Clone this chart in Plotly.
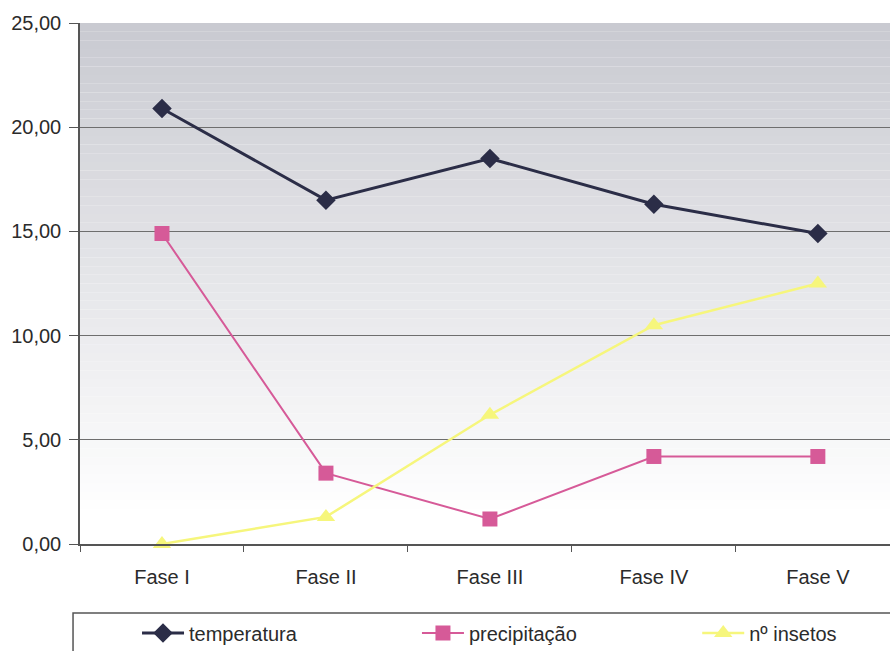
import plotly.graph_objects as go

# Data
fases = ["Fase I", "Fase II", "Fase III", "Fase IV", "Fase V"]
temperatura = [20.9, 16.5, 18.5, 16.3, 14.9]
precipitacao = [14.9, 3.4, 1.2, 4.2, 4.2]
insetos = [0.0, 1.3, 6.2, 10.5, 12.5]

FONT = "Liberation Sans, Arial, sans-serif"
TXT = "#2b2b2b"

fig = go.Figure()

fig.add_trace(go.Scatter(
    x=fases, y=temperatura, name="temperatura", mode="lines+markers",
    line=dict(color="#2b2d47", width=3),
    marker=dict(symbol="diamond", size=15, color="#2b2d47"),
    legend="legend", cliponaxis=False,
))
fig.add_trace(go.Scatter(
    x=fases, y=precipitacao, name="precipitação", mode="lines+markers",
    line=dict(color="#d65a98", width=2),
    marker=dict(symbol="square", size=15, color="#d65a98"),
    legend="legend2", cliponaxis=False,
))
fig.add_trace(go.Scatter(
    x=fases, y=insetos, name="nº insetos", mode="lines+markers",
    line=dict(color="#f6f67c", width=2.5),
    marker=dict(symbol="triangle-up", size=16, color="#f6f67c"),
    legend="legend3", cliponaxis=False,
))

# Vertical gray-to-white gradient behind the plot area
shapes = []
n_bands = 60
top_rgb = (201, 202, 209)
for i in range(n_bands):
    y0 = 25 * i / n_bands
    y1 = 25 * (i + 1) / n_bands
    mid = (y0 + y1) / 2
    t = max(0.0, (mid - 1.5) / 23.5)
    t = min(1.0, t)
    rgb = tuple(round(255 + (c - 255) * t) for c in top_rgb)
    shapes.append(dict(
        type="rect", xref="paper", yref="y", x0=0, x1=1, y0=y0, y1=y1,
        fillcolor="rgb(%d,%d,%d)" % rgb, line=dict(width=0), layer="below",
    ))

# Legend frame (runs off the right and bottom edges)
shapes.append(dict(
    type="rect", xref="paper", yref="paper", x0=-0.0086, x1=1.05,
    y0=-0.30, y1=-0.1324, line=dict(color="#555555", width=1.5),
    fillcolor="rgba(0,0,0,0)", layer="above",
))


def legend_box(x):
    return dict(
        orientation="h", x=x, xanchor="left", y=-0.171, yanchor="middle",
        font=dict(family=FONT, size=20, color=TXT),
        bgcolor="rgba(0,0,0,0)", itemwidth=42,
    )


fig.update_layout(
    width=890, height=651, autosize=False,
    margin=dict(l=80, r=0, t=23, b=107, autoexpand=False),
    paper_bgcolor="white", plot_bgcolor="white",
    separators=",.",
    font=dict(family=FONT, size=20, color=TXT),
    shapes=shapes,
    showlegend=True,
    legend=legend_box(0.0704),
    legend2=legend_box(0.4160),
    legend3=legend_box(0.7620),
)

fig.update_yaxes(
    range=[0, 25], dtick=5, tickformat=".2f",
    showgrid=True, gridcolor="#6e6e6e", gridwidth=1,
    zeroline=False, showline=True, linecolor="#555555", linewidth=1.5,
    ticks="outside", ticklen=9, tickcolor="#555555", ticklabelstandoff=4,
    tickfont=dict(family=FONT, size=20, color=TXT),
)
fig.update_xaxes(
    type="category", range=[-0.5, 4.44],
    showgrid=False, zeroline=False, showline=True, linecolor="#555555", linewidth=1.5,
    ticks="outside", ticklen=6, tickcolor="#555555", tickson="boundaries",
    ticklabelstandoff=14,
    tickfont=dict(family=FONT, size=20, color=TXT),
)

fig.write_html("out.html")
